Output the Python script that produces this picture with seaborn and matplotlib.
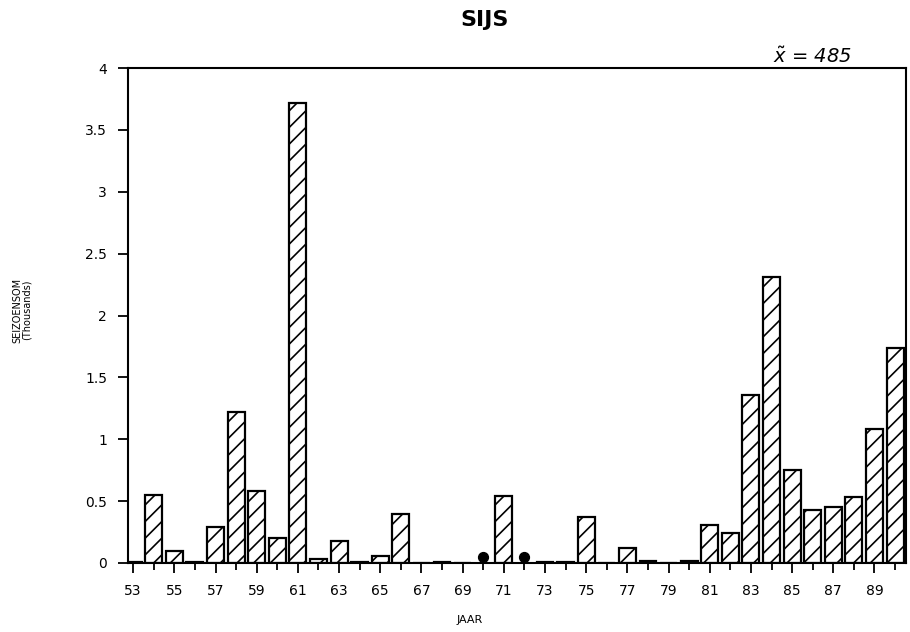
import numpy as np
import pandas as pd
import matplotlib
matplotlib.use("Agg")
import matplotlib.pyplot as plt
import seaborn as sns

years = list(range(53, 91))
values = [0.01, 0.55, 0.10, 0.01, 0.29, 1.22, 0.58, 0.20, 3.72, 0.035,
          0.18, 0.01, 0.057, 0.40, 0.0, 0.01, 0.0, np.nan, 0.54, np.nan,
          0.01, 0.01, 0.37, 0.0, 0.12, 0.02, 0.0, 0.02, 0.31, 0.24,
          1.36, 2.31, 0.75, 0.43, 0.45, 0.53, 1.08, 1.74]
dot_years = [70, 72]
dot_values = [0.05, 0.05]
ytick_vals = [0, 0.5, 1, 1.5, 2, 2.5, 3, 3.5, 4]
ytick_labels = ["0", "0.5", "1", "1.5", "2", "2.5", "3", "3.5", "4"]
label_years = list(range(53, 90, 2))

sns.set_style("ticks")
plt.rcParams["font.family"] = ["DejaVu Sans"]
plt.rcParams["hatch.linewidth"] = 1.2
plt.rcParams["text.color"] = "black"
plt.rcParams["xtick.color"] = "black"
plt.rcParams["ytick.color"] = "black"
plt.rcParams["axes.edgecolor"] = "black"

fig = plt.figure(figsize=(9.10, 6.32), dpi=100)
ax = fig.add_axes([128/910, 1 - 563/632, (906 - 128)/910, (563 - 68)/632])

df = pd.DataFrame({"jaar": [str(y) for y in years], "waarde": values})
order = [str(y) for y in years]
sns.barplot(data=df, x="jaar", y="waarde", order=order, color="white",
            edgecolor="black", linewidth=1.6, width=0.82, hatch="//",
            saturation=1, ax=ax, err_kws={"linewidth": 0})

for b in ax.patches:
    b.set_facecolor("white")

ax.scatter([years.index(y) for y in dot_years], dot_values, s=50,
           color="black", zorder=5)

ax.set_xlim(-0.25, len(years) - 0.47)
ax.set_ylim(0, 4)
ax.set_yticks(ytick_vals)
ax.set_yticklabels(ytick_labels, fontsize=10)
ax.set_xticks([years.index(y) for y in label_years])
ax.set_xticklabels([str(y) for y in label_years], fontsize=10)
ax.set_xticks([years.index(y) for y in years if y not in label_years], minor=True)
ax.tick_params(axis="both", which="major", direction="out", length=7, width=1.3)
ax.tick_params(axis="x", which="minor", direction="out", length=5, width=1.3)
ax.tick_params(axis="x", pad=8)
ax.tick_params(axis="y", pad=8)
for s in ax.spines.values():
    s.set_linewidth(1.5)
    s.set_visible(True)
ax.set_xlabel("")
ax.set_ylabel("")

fig.text(485/910, 1 - 20/632, "SIJS", ha="center", va="center",
         fontsize=16, fontweight="bold")
fig.text(470/910, 1 - 620/632, "JAAR", ha="center", va="center", fontsize=8)
fig.text(22/910, 1 - 310/632, "SEIZOENSOM\n(Thousands)", ha="center",
         va="center", rotation=90, fontsize=7, linespacing=1.0)
fig.text(812/910, 1 - 57/632, r"$\tilde{x}$ = 485", ha="center", va="center",
         fontsize=14, style="italic")

fig.savefig("out.png", dpi=100)
